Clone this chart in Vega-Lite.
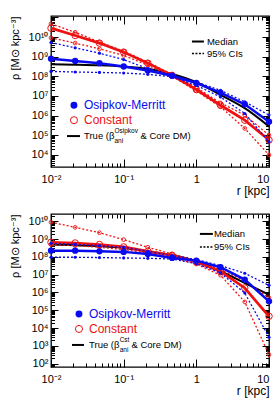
{
"$schema": "https://vega.github.io/schema/vega-lite/v6.json",
"padding": {"left": 8, "top": 14, "right": 6, "bottom": 2},
"spacing": 47,
"bounds": "flush",
"config": {
  "view": {"stroke": "#000", "strokeWidth": 1.3},
  "font": "Liberation Sans",
  "axis": {"domain": false, "grid": false, "tickColor": "#000", "tickWidth": 1, "labelColor": "#000", "labelFont": "Liberation Sans", "titleFont": "Liberation Sans", "titleColor": "#000", "titleFontWeight": "normal", "labelFontSize": 11, "titleFontSize": 12, "labelOverlap": false, "labelFlush": false}
},
"datasets": {
"curves": [
{"panel":"top","model":"True","stat":"med","r":0.01,"rho":4.07e8},
{"panel":"top","model":"True","stat":"med","r":0.0215,"rho":3.89e8},
{"panel":"top","model":"True","stat":"med","r":0.0464,"rho":3.63e8},
{"panel":"top","model":"True","stat":"med","r":0.1,"rho":3.16e8},
{"panel":"top","model":"True","stat":"med","r":0.215,"rho":2.40e8},
{"panel":"top","model":"True","stat":"med","r":0.464,"rho":1.32e8},
{"panel":"top","model":"True","stat":"med","r":1,"rho":5.01e7},
{"panel":"top","model":"True","stat":"med","r":2.15,"rho":1.15e7},
{"panel":"top","model":"True","stat":"med","r":4.64,"rho":2.40e6},
{"panel":"top","model":"True","stat":"med","r":10,"rho":2.82e5},
{"panel":"top","model":"OM","stat":"med","r":0.01,"rho":7.94e8},
{"panel":"top","model":"OM","stat":"med","r":0.0215,"rho":6.03e8},
{"panel":"top","model":"OM","stat":"med","r":0.0464,"rho":4.68e8},
{"panel":"top","model":"OM","stat":"med","r":0.1,"rho":3.16e8},
{"panel":"top","model":"OM","stat":"med","r":0.215,"rho":2.0e8},
{"panel":"top","model":"OM","stat":"med","r":0.464,"rho":1.07e8},
{"panel":"top","model":"OM","stat":"med","r":1,"rho":4.57e7},
{"panel":"top","model":"OM","stat":"med","r":2.15,"rho":1.48e7},
{"panel":"top","model":"OM","stat":"med","r":4.64,"rho":3.80e6},
{"panel":"top","model":"OM","stat":"med","r":10,"rho":4.90e5},
{"panel":"top","model":"OM","stat":"hi","r":0.01,"rho":5.25e9},
{"panel":"top","model":"OM","stat":"hi","r":0.0215,"rho":2.82e9},
{"panel":"top","model":"OM","stat":"hi","r":0.0464,"rho":1.51e9},
{"panel":"top","model":"OM","stat":"hi","r":0.1,"rho":7.08e8},
{"panel":"top","model":"OM","stat":"hi","r":0.215,"rho":2.45e8},
{"panel":"top","model":"OM","stat":"hi","r":0.464,"rho":1.15e8},
{"panel":"top","model":"OM","stat":"hi","r":1,"rho":5.13e7},
{"panel":"top","model":"OM","stat":"hi","r":2.15,"rho":1.95e7},
{"panel":"top","model":"OM","stat":"hi","r":4.64,"rho":5.01e6},
{"panel":"top","model":"OM","stat":"hi","r":10,"rho":1.07e6},
{"panel":"top","model":"OM","stat":"lo","r":0.01,"rho":1.78e8},
{"panel":"top","model":"OM","stat":"lo","r":0.0215,"rho":1.66e8},
{"panel":"top","model":"OM","stat":"lo","r":0.0464,"rho":1.58e8},
{"panel":"top","model":"OM","stat":"lo","r":0.1,"rho":1.48e8},
{"panel":"top","model":"OM","stat":"lo","r":0.215,"rho":1.26e8},
{"panel":"top","model":"OM","stat":"lo","r":0.464,"rho":9.55e7},
{"panel":"top","model":"OM","stat":"lo","r":1,"rho":3.47e7},
{"panel":"top","model":"OM","stat":"lo","r":2.15,"rho":8.91e6},
{"panel":"top","model":"OM","stat":"lo","r":4.64,"rho":1.29e6},
{"panel":"top","model":"OM","stat":"lo","r":10,"rho":4.68e4},
{"panel":"top","model":"Const","stat":"med","r":0.01,"rho":2.82e10},
{"panel":"top","model":"Const","stat":"med","r":0.0215,"rho":1.20e10},
{"panel":"top","model":"Const","stat":"med","r":0.0464,"rho":4.90e9},
{"panel":"top","model":"Const","stat":"med","r":0.1,"rho":1.70e9},
{"panel":"top","model":"Const","stat":"med","r":0.215,"rho":4.68e8},
{"panel":"top","model":"Const","stat":"med","r":0.464,"rho":1.12e8},
{"panel":"top","model":"Const","stat":"med","r":1,"rho":2.14e7},
{"panel":"top","model":"Const","stat":"med","r":2.15,"rho":3.39e6},
{"panel":"top","model":"Const","stat":"med","r":4.64,"rho":5.89e5},
{"panel":"top","model":"Const","stat":"med","r":10,"rho":5.75e4},
{"panel":"top","model":"Const","stat":"hi","r":0.01,"rho":4.68e10},
{"panel":"top","model":"Const","stat":"hi","r":0.0215,"rho":1.74e10},
{"panel":"top","model":"Const","stat":"hi","r":0.0464,"rho":5.50e9},
{"panel":"top","model":"Const","stat":"hi","r":0.1,"rho":1.91e9},
{"panel":"top","model":"Const","stat":"hi","r":0.215,"rho":5.25e8},
{"panel":"top","model":"Const","stat":"hi","r":0.464,"rho":1.26e8},
{"panel":"top","model":"Const","stat":"hi","r":1,"rho":2.69e7},
{"panel":"top","model":"Const","stat":"hi","r":2.15,"rho":4.47e6},
{"panel":"top","model":"Const","stat":"hi","r":4.64,"rho":1.07e6},
{"panel":"top","model":"Const","stat":"hi","r":10,"rho":1.02e5},
{"panel":"top","model":"Const","stat":"lo","r":0.01,"rho":9.12e9},
{"panel":"top","model":"Const","stat":"lo","r":0.0215,"rho":4.90e9},
{"panel":"top","model":"Const","stat":"lo","r":0.0464,"rho":2.51e9},
{"panel":"top","model":"Const","stat":"lo","r":0.1,"rho":1.15e9},
{"panel":"top","model":"Const","stat":"lo","r":0.215,"rho":3.63e8},
{"panel":"top","model":"Const","stat":"lo","r":0.464,"rho":1.0e8},
{"panel":"top","model":"Const","stat":"lo","r":1,"rho":1.82e7},
{"panel":"top","model":"Const","stat":"lo","r":2.15,"rho":2.82e6},
{"panel":"top","model":"Const","stat":"lo","r":4.64,"rho":2.24e5},
{"panel":"top","model":"Const","stat":"lo","r":10,"rho":1.0e4},
{"panel":"bot","model":"True","stat":"med","r":0.01,"rho":4.90e8},
{"panel":"bot","model":"True","stat":"med","r":0.0215,"rho":4.57e8},
{"panel":"bot","model":"True","stat":"med","r":0.0464,"rho":3.98e8},
{"panel":"bot","model":"True","stat":"med","r":0.1,"rho":3.16e8},
{"panel":"bot","model":"True","stat":"med","r":0.215,"rho":2.04e8},
{"panel":"bot","model":"True","stat":"med","r":0.464,"rho":1.23e8},
{"panel":"bot","model":"True","stat":"med","r":1,"rho":5.62e7},
{"panel":"bot","model":"True","stat":"med","r":2.15,"rho":1.55e7},
{"panel":"bot","model":"True","stat":"med","r":4.64,"rho":3.39e6},
{"panel":"bot","model":"True","stat":"med","r":10,"rho":7.59e5},
{"panel":"bot","model":"OM","stat":"med","r":0.01,"rho":2.24e8},
{"panel":"bot","model":"OM","stat":"med","r":0.0215,"rho":2.24e8},
{"panel":"bot","model":"OM","stat":"med","r":0.0464,"rho":2.04e8},
{"panel":"bot","model":"OM","stat":"med","r":0.1,"rho":1.91e8},
{"panel":"bot","model":"OM","stat":"med","r":0.215,"rho":1.45e8},
{"panel":"bot","model":"OM","stat":"med","r":0.464,"rho":8.71e7},
{"panel":"bot","model":"OM","stat":"med","r":1,"rho":6.17e7},
{"panel":"bot","model":"OM","stat":"med","r":2.15,"rho":2.63e7},
{"panel":"bot","model":"OM","stat":"med","r":4.64,"rho":5.25e6},
{"panel":"bot","model":"OM","stat":"med","r":10,"rho":3.16e5},
{"panel":"bot","model":"OM","stat":"hi","r":0.01,"rho":5.75e8},
{"panel":"bot","model":"OM","stat":"hi","r":0.0215,"rho":5.01e8},
{"panel":"bot","model":"OM","stat":"hi","r":0.0464,"rho":4.27e8},
{"panel":"bot","model":"OM","stat":"hi","r":0.1,"rho":3.47e8},
{"panel":"bot","model":"OM","stat":"hi","r":0.215,"rho":2.04e8},
{"panel":"bot","model":"OM","stat":"hi","r":0.464,"rho":1.17e8},
{"panel":"bot","model":"OM","stat":"hi","r":1,"rho":7.08e7},
{"panel":"bot","model":"OM","stat":"hi","r":2.15,"rho":3.24e7},
{"panel":"bot","model":"OM","stat":"hi","r":4.64,"rho":1.20e7},
{"panel":"bot","model":"OM","stat":"hi","r":10,"rho":2.51e6},
{"panel":"bot","model":"OM","stat":"lo","r":0.01,"rho":9.55e7},
{"panel":"bot","model":"OM","stat":"lo","r":0.0215,"rho":9.55e7},
{"panel":"bot","model":"OM","stat":"lo","r":0.0464,"rho":9.12e7},
{"panel":"bot","model":"OM","stat":"lo","r":0.1,"rho":8.71e7},
{"panel":"bot","model":"OM","stat":"lo","r":0.215,"rho":8.32e7},
{"panel":"bot","model":"OM","stat":"lo","r":0.464,"rho":7.59e7},
{"panel":"bot","model":"OM","stat":"lo","r":1,"rho":4.17e7},
{"panel":"bot","model":"OM","stat":"lo","r":2.15,"rho":1.26e7},
{"panel":"bot","model":"OM","stat":"lo","r":4.64,"rho":9.33e5},
{"panel":"bot","model":"OM","stat":"lo","r":10,"rho":3.02e3},
{"panel":"bot","model":"Const","stat":"med","r":0.01,"rho":6.61e8},
{"panel":"bot","model":"Const","stat":"med","r":0.0215,"rho":6.03e8},
{"panel":"bot","model":"Const","stat":"med","r":0.0464,"rho":4.90e8},
{"panel":"bot","model":"Const","stat":"med","r":0.1,"rho":3.63e8},
{"panel":"bot","model":"Const","stat":"med","r":0.215,"rho":2.04e8},
{"panel":"bot","model":"Const","stat":"med","r":0.464,"rho":1.23e8},
{"panel":"bot","model":"Const","stat":"med","r":1,"rho":5.13e7},
{"panel":"bot","model":"Const","stat":"med","r":2.15,"rho":1.55e7},
{"panel":"bot","model":"Const","stat":"med","r":4.64,"rho":1.78e6},
{"panel":"bot","model":"Const","stat":"med","r":10,"rho":4.57e4},
{"panel":"bot","model":"Const","stat":"hi","r":0.01,"rho":8.91e9},
{"panel":"bot","model":"Const","stat":"hi","r":0.0215,"rho":4.57e9},
{"panel":"bot","model":"Const","stat":"hi","r":0.0464,"rho":2.29e9},
{"panel":"bot","model":"Const","stat":"hi","r":0.1,"rho":9.33e8},
{"panel":"bot","model":"Const","stat":"hi","r":0.215,"rho":3.47e8},
{"panel":"bot","model":"Const","stat":"hi","r":0.464,"rho":1.45e8},
{"panel":"bot","model":"Const","stat":"hi","r":1,"rho":6.46e7},
{"panel":"bot","model":"Const","stat":"hi","r":2.15,"rho":1.91e7},
{"panel":"bot","model":"Const","stat":"hi","r":4.64,"rho":4.57e6},
{"panel":"bot","model":"Const","stat":"hi","r":10,"rho":5.01e5},
{"panel":"bot","model":"Const","stat":"lo","r":0.01,"rho":4.90e8},
{"panel":"bot","model":"Const","stat":"lo","r":0.0215,"rho":4.27e8},
{"panel":"bot","model":"Const","stat":"lo","r":0.0464,"rho":3.47e8},
{"panel":"bot","model":"Const","stat":"lo","r":0.1,"rho":2.57e8},
{"panel":"bot","model":"Const","stat":"lo","r":0.215,"rho":1.66e8},
{"panel":"bot","model":"Const","stat":"lo","r":0.464,"rho":9.55e7},
{"panel":"bot","model":"Const","stat":"lo","r":1,"rho":3.98e7},
{"panel":"bot","model":"Const","stat":"lo","r":2.15,"rho":9.33e6},
{"panel":"bot","model":"Const","stat":"lo","r":4.64,"rho":2.95e5},
{"panel":"bot","model":"Const","stat":"lo","r":10,"rho":3.16e2}
],
"leg": [
{"panel":"top","kind":"line","sty":"solid","r":0.870,"r2":1.272,"rho":5.89e9},
{"panel":"top","kind":"line","sty":"dot","r":0.870,"r2":1.272,"rho":1.445e9},
{"panel":"top","kind":"line","sty":"solid","r":0.0166,"r2":0.02506,"rho":9.16e4},
{"panel":"top","kind":"pt","model":"OM","r":0.0207,"rho":3.39e6},
{"panel":"top","kind":"pt","model":"Const","r":0.0207,"rho":5.89e5},
{"panel":"top","kind":"txt","grp":"big","model":"OM","label":"Osipkov-Merritt","r":0.02844,"rho":3.39e6},
{"panel":"top","kind":"txt","grp":"big","model":"Const","label":"Constant","r":0.02844,"rho":5.89e5},
{"panel":"top","kind":"txt","grp":"mid","model":"True","label":"True (β","r":0.02844,"rho":9.16e4},
{"panel":"top","kind":"txt","grp":"tiny","model":"True","label":"Osipkov","r":0.0747,"rho":1.64e5},
{"panel":"top","kind":"txt","grp":"tiny","model":"True","label":"ani","r":0.0747,"rho":5.12e4},
{"panel":"top","kind":"txt","grp":"mid","model":"True","label":"& Core DM)","r":0.1703,"rho":9.16e4},
{"panel":"top","kind":"txt","grp":"mid","model":"True","label":"Median","r":1.40,"rho":5.89e9},
{"panel":"top","kind":"txt","grp":"mid","model":"True","label":"95% CIs","r":1.40,"rho":1.445e9},
{"panel":"bot","kind":"line","sty":"solid","r":1.12,"r2":1.69,"rho":1.95e9},
{"panel":"bot","kind":"line","sty":"dot","r":1.12,"r2":1.69,"rho":3.63e8},
{"panel":"bot","kind":"line","sty":"solid","r":0.01945,"r2":0.02844,"rho":1.12e3},
{"panel":"bot","kind":"pt","model":"OM","r":0.02427,"rho":6.17e4},
{"panel":"bot","kind":"pt","model":"Const","r":0.02427,"rho":8.91e3},
{"panel":"bot","kind":"txt","grp":"big","model":"OM","label":"Osipkov-Merritt","r":0.03335,"rho":6.17e4},
{"panel":"bot","kind":"txt","grp":"big","model":"Const","label":"Constant","r":0.03335,"rho":8.91e3},
{"panel":"bot","kind":"txt","grp":"mid","model":"True","label":"True (β","r":0.03335,"rho":1.12e3},
{"panel":"bot","kind":"txt","grp":"tiny","model":"True","label":"Cst","r":0.0881,"rho":2.14e3},
{"panel":"bot","kind":"txt","grp":"tiny","model":"True","label":"ani","r":0.0881,"rho":589},
{"panel":"bot","kind":"txt","grp":"mid","model":"True","label":"& Core DM)","r":0.128,"rho":1.12e3},
{"panel":"bot","kind":"txt","grp":"mid","model":"True","label":"Median","r":1.746,"rho":1.95e9},
{"panel":"bot","kind":"txt","grp":"mid","model":"True","label":"95% CIs","r":1.746,"rho":3.63e8}
]
},
"vconcat": [
{
  "width": 218, "height": 151,
  "encoding": {
    "x": {"field": "r", "type": "quantitative", "scale": {"type": "log", "domain": [0.01, 10], "nice": false}, "axis": null},
    "y": {"field": "rho", "type": "quantitative", "scale": {"type": "log", "domain": [2450, 1.17e11], "nice": false}, "axis": null}
  },
  "layer": [
    {"data": {"name": "curves"}, "transform": [{"filter": "datum.panel=='top' && datum.model=='True'"}],
     "mark": {"type": "line", "color": "#000", "strokeWidth": 2, "interpolate": "monotone"},
     "encoding": {
       "x": {"field": "r", "type": "quantitative", "scale": {"type": "log", "domain": [0.01, 10], "nice": false},
         "axis": {"orient": "bottom", "values": [0.01, 0.1, 1, 10], "ticks": false,
           "labelExpr": "datum.value < 0.05 ? '10⁻²' : datum.value < 0.5 ? '10⁻¹' : datum.value < 5 ? '1' : '10'",
           "labelAlign": {"condition": {"test": "datum.value > 5", "value": "right"}, "value": "center"},
           "labelPadding": 6, "title": "r  [kpc]", "titleX": 218, "titleY": 23, "titleAlign": "right", "titleBaseline": "middle"}},
       "y": {"field": "rho", "type": "quantitative", "scale": {"type": "log", "domain": [2450, 1.17e11], "nice": false},
         "axis": {"orient": "left", "values": [1e4,1e5,1e6,1e7,1e8,1e9,1e10], "ticks": false,
           "labelExpr": "'10' + ['⁰','¹','²','³','⁴','⁵','⁶','⁷','⁸','⁹','¹⁰'][round(log(datum.value)/LN10)]",
           "labelPadding": 3, "title": "ρ [M⊙ kpc⁻³]", "titleFontSize": 11, "titleX": -36, "titleY": 0, "titleAlign": "right", "titleBaseline": "middle", "titleAngle": 270}}
     }},
    {"data": {"name": "curves"}, "transform": [{"filter": "datum.panel=='top' && datum.model=='True'"}],
     "mark": {"type": "point", "opacity": 0},
     "encoding": {
       "x": {"field": "r", "type": "quantitative", "scale": {"type": "log", "domain": [0.01, 10], "nice": false},
         "axis": {"orient": "top", "values": [0.01,0.02,0.03,0.04,0.05,0.06,0.07,0.08,0.09,0.1,0.2,0.3,0.4,0.5,0.6,0.7,0.8,0.9,1,2,3,4,5,6,7,8,9,10], "labels": false, "title": null,
           "tickSize": {"condition": {"test": "abs(log(datum.value)/LN10 - round(log(datum.value)/LN10)) < 0.01", "value": -8}, "value": -4}}},
       "y": {"field": "rho", "type": "quantitative", "scale": {"type": "log", "domain": [2450, 1.17e11], "nice": false},
         "axis": {"orient": "right", "values": [3e3,4e3,5e3,6e3,7e3,8e3,9e3,1e4,2e4,3e4,4e4,5e4,6e4,7e4,8e4,9e4,1e5,2e5,3e5,4e5,5e5,6e5,7e5,8e5,9e5,1e6,2e6,3e6,4e6,5e6,6e6,7e6,8e6,9e6,1e7,2e7,3e7,4e7,5e7,6e7,7e7,8e7,9e7,1e8,2e8,3e8,4e8,5e8,6e8,7e8,8e8,9e8,1e9,2e9,3e9,4e9,5e9,6e9,7e9,8e9,9e9,1e10,2e10,3e10,4e10,5e10,6e10,7e10,8e10,9e10,1e11], "labels": false, "title": null,
           "tickSize": {"condition": {"test": "abs(log(datum.value)/LN10 - round(log(datum.value)/LN10)) < 0.01", "value": -7}, "value": -3.5}}}
     }},
    {"data": {"name": "curves"}, "transform": [{"filter": "datum.panel=='top' && datum.model=='True'"}],
     "mark": {"type": "point", "opacity": 0},
     "encoding": {
       "x": {"field": "r", "type": "quantitative", "scale": {"type": "log", "domain": [0.01, 10], "nice": false},
         "axis": {"orient": "bottom", "values": [0.01,0.02,0.03,0.04,0.05,0.06,0.07,0.08,0.09,0.1,0.2,0.3,0.4,0.5,0.6,0.7,0.8,0.9,1,2,3,4,5,6,7,8,9,10], "labels": false, "title": null,
           "tickSize": {"condition": {"test": "abs(log(datum.value)/LN10 - round(log(datum.value)/LN10)) < 0.01", "value": -8}, "value": -4}}},
       "y": {"field": "rho", "type": "quantitative", "scale": {"type": "log", "domain": [2450, 1.17e11], "nice": false},
         "axis": {"orient": "left", "values": [3e3,4e3,5e3,6e3,7e3,8e3,9e3,1e4,2e4,3e4,4e4,5e4,6e4,7e4,8e4,9e4,1e5,2e5,3e5,4e5,5e5,6e5,7e5,8e5,9e5,1e6,2e6,3e6,4e6,5e6,6e6,7e6,8e6,9e6,1e7,2e7,3e7,4e7,5e7,6e7,7e7,8e7,9e7,1e8,2e8,3e8,4e8,5e8,6e8,7e8,8e8,9e8,1e9,2e9,3e9,4e9,5e9,6e9,7e9,8e9,9e9,1e10,2e10,3e10,4e10,5e10,6e10,7e10,8e10,9e10,1e11], "labels": false, "title": null,
           "tickSize": {"condition": {"test": "abs(log(datum.value)/LN10 - round(log(datum.value)/LN10)) < 0.01", "value": -7}, "value": -3.5}}}
     }},
    {"data": {"name": "curves"}, "transform": [{"filter": "datum.panel=='top' && datum.model=='Const' && datum.stat!='med'"}],
     "mark": {"type": "line", "color": "#ee1111", "strokeWidth": 1.3, "strokeDash": [2, 2]}, "encoding": {"detail": {"field": "stat"}}},
    {"data": {"name": "curves"}, "transform": [{"filter": "datum.panel=='top' && datum.model=='Const' && datum.stat!='med'"}],
     "mark": {"type": "point", "shape": "circle", "filled": false, "color": "#ee1111", "strokeWidth": 0.9, "size": 14, "opacity": 1}},
    {"data": {"name": "curves"}, "transform": [{"filter": "datum.panel=='top' && datum.model=='Const' && datum.stat=='med'"}],
     "mark": {"type": "line", "color": "#ee1111", "strokeWidth": 2.7}},
    {"data": {"name": "curves"}, "transform": [{"filter": "datum.panel=='top' && datum.model=='Const' && datum.stat=='med'"}],
     "mark": {"type": "point", "shape": "circle", "filled": false, "color": "#ee1111", "strokeWidth": 1, "size": 42, "opacity": 1}},
    {"data": {"name": "curves"}, "transform": [{"filter": "datum.panel=='top' && datum.model=='OM' && datum.stat!='med'"}],
     "mark": {"type": "line", "color": "#0a0aee", "strokeWidth": 1.3, "strokeDash": [2, 2]}, "encoding": {"detail": {"field": "stat"}}},
    {"data": {"name": "curves"}, "transform": [{"filter": "datum.panel=='top' && datum.model=='OM' && datum.stat!='med'"}],
     "mark": {"type": "point", "shape": "circle", "filled": true, "color": "#0a0aee", "size": 10, "opacity": 1}},
    {"data": {"name": "curves"}, "transform": [{"filter": "datum.panel=='top' && datum.model=='OM' && datum.stat=='med'"}],
     "mark": {"type": "line", "color": "#0a0aee", "strokeWidth": 2.5}},
    {"data": {"name": "curves"}, "transform": [{"filter": "datum.panel=='top' && datum.model=='OM' && datum.stat=='med'"}],
     "mark": {"type": "point", "shape": "circle", "filled": true, "color": "#0a0aee", "size": 40, "opacity": 1}},
    {"data": {"name": "leg"}, "transform": [{"filter": "datum.panel=='top' && datum.kind=='line' && datum.sty=='solid'"}],
     "mark": {"type": "rule", "color": "#000", "strokeWidth": 2}, "encoding": {"x2": {"field": "r2"}}},
    {"data": {"name": "leg"}, "transform": [{"filter": "datum.panel=='top' && datum.kind=='line' && datum.sty=='dot'"}],
     "mark": {"type": "rule", "color": "#000", "strokeWidth": 1.5, "strokeDash": [2, 1.5]}, "encoding": {"x2": {"field": "r2"}}},
    {"data": {"name": "leg"}, "transform": [{"filter": "datum.panel=='top' && datum.kind=='pt' && datum.model=='OM'"}],
     "mark": {"type": "point", "shape": "circle", "filled": true, "color": "#0a0aee", "size": 48, "opacity": 1}},
    {"data": {"name": "leg"}, "transform": [{"filter": "datum.panel=='top' && datum.kind=='pt' && datum.model=='Const'"}],
     "mark": {"type": "point", "shape": "circle", "filled": false, "color": "#ee1111", "strokeWidth": 1, "size": 50, "opacity": 1}},
    {"data": {"name": "leg"}, "transform": [{"filter": "datum.panel=='top' && datum.kind=='txt' && datum.grp=='big'"}],
     "mark": {"type": "text", "align": "left", "baseline": "middle", "fontSize": 12},
     "encoding": {"text": {"field": "label"}, "color": {"field": "model", "type": "nominal", "scale": {"domain": ["OM", "Const", "True"], "range": ["#0a0aee", "#ee1111", "#000000"]}, "legend": null}}},
    {"data": {"name": "leg"}, "transform": [{"filter": "datum.panel=='top' && datum.kind=='txt' && datum.grp=='mid'"}],
     "mark": {"type": "text", "align": "left", "baseline": "middle", "fontSize": 9.5, "color": "#000"},
     "encoding": {"text": {"field": "label"}}},
    {"data": {"name": "leg"}, "transform": [{"filter": "datum.panel=='top' && datum.kind=='txt' && datum.grp=='tiny'"}],
     "mark": {"type": "text", "align": "left", "baseline": "middle", "fontSize": 6.5, "color": "#000"},
     "encoding": {"text": {"field": "label"}}}
  ],
  "resolve": {"axis": {"x": "independent", "y": "independent"}}
},
{
  "width": 218, "height": 153,
  "encoding": {
    "x": {"field": "r", "type": "quantitative", "scale": {"type": "log", "domain": [0.01, 10], "nice": false}, "axis": null},
    "y": {"field": "rho", "type": "quantitative", "scale": {"type": "log", "domain": [64.6, 2.57e10], "nice": false}, "axis": null}
  },
  "layer": [
    {"data": {"name": "curves"}, "transform": [{"filter": "datum.panel=='bot' && datum.model=='True'"}],
     "mark": {"type": "line", "color": "#000", "strokeWidth": 2, "interpolate": "monotone"},
     "encoding": {
       "x": {"field": "r", "type": "quantitative", "scale": {"type": "log", "domain": [0.01, 10], "nice": false},
         "axis": {"orient": "bottom", "values": [0.01, 0.1, 1, 10], "ticks": false,
           "labelExpr": "datum.value < 0.05 ? '10⁻²' : datum.value < 0.5 ? '10⁻¹' : datum.value < 5 ? '1' : '10'",
           "labelAlign": {"condition": {"test": "datum.value > 5", "value": "right"}, "value": "center"},
           "labelPadding": 6, "title": "r  [kpc]", "titleX": 218, "titleY": 23, "titleAlign": "right", "titleBaseline": "middle"}},
       "y": {"field": "rho", "type": "quantitative", "scale": {"type": "log", "domain": [64.6, 2.57e10], "nice": false},
         "axis": {"orient": "left", "values": [1e2,1e3,1e4,1e5,1e6,1e7,1e8,1e9,1e10], "ticks": false,
           "labelExpr": "'10' + ['⁰','¹','²','³','⁴','⁵','⁶','⁷','⁸','⁹','¹⁰'][round(log(datum.value)/LN10)]",
           "labelPadding": 3, "title": "ρ [M⊙ kpc⁻³]", "titleFontSize": 11, "titleX": -36, "titleY": 0, "titleAlign": "right", "titleBaseline": "middle", "titleAngle": 270}}
     }},
    {"data": {"name": "curves"}, "transform": [{"filter": "datum.panel=='bot' && datum.model=='True'"}],
     "mark": {"type": "point", "opacity": 0},
     "encoding": {
       "x": {"field": "r", "type": "quantitative", "scale": {"type": "log", "domain": [0.01, 10], "nice": false},
         "axis": {"orient": "top", "values": [0.01,0.02,0.03,0.04,0.05,0.06,0.07,0.08,0.09,0.1,0.2,0.3,0.4,0.5,0.6,0.7,0.8,0.9,1,2,3,4,5,6,7,8,9,10], "labels": false, "title": null,
           "tickSize": {"condition": {"test": "abs(log(datum.value)/LN10 - round(log(datum.value)/LN10)) < 0.01", "value": -8}, "value": -4}}},
       "y": {"field": "rho", "type": "quantitative", "scale": {"type": "log", "domain": [64.6, 2.57e10], "nice": false},
         "axis": {"orient": "right", "values": [70,80,90,1e2,2e2,3e2,4e2,5e2,6e2,7e2,8e2,9e2,1e3,2e3,3e3,4e3,5e3,6e3,7e3,8e3,9e3,1e4,2e4,3e4,4e4,5e4,6e4,7e4,8e4,9e4,1e5,2e5,3e5,4e5,5e5,6e5,7e5,8e5,9e5,1e6,2e6,3e6,4e6,5e6,6e6,7e6,8e6,9e6,1e7,2e7,3e7,4e7,5e7,6e7,7e7,8e7,9e7,1e8,2e8,3e8,4e8,5e8,6e8,7e8,8e8,9e8,1e9,2e9,3e9,4e9,5e9,6e9,7e9,8e9,9e9,1e10,2e10], "labels": false, "title": null,
           "tickSize": {"condition": {"test": "abs(log(datum.value)/LN10 - round(log(datum.value)/LN10)) < 0.01", "value": -7}, "value": -3.5}}}
     }},
    {"data": {"name": "curves"}, "transform": [{"filter": "datum.panel=='bot' && datum.model=='True'"}],
     "mark": {"type": "point", "opacity": 0},
     "encoding": {
       "x": {"field": "r", "type": "quantitative", "scale": {"type": "log", "domain": [0.01, 10], "nice": false},
         "axis": {"orient": "bottom", "values": [0.01,0.02,0.03,0.04,0.05,0.06,0.07,0.08,0.09,0.1,0.2,0.3,0.4,0.5,0.6,0.7,0.8,0.9,1,2,3,4,5,6,7,8,9,10], "labels": false, "title": null,
           "tickSize": {"condition": {"test": "abs(log(datum.value)/LN10 - round(log(datum.value)/LN10)) < 0.01", "value": -8}, "value": -4}}},
       "y": {"field": "rho", "type": "quantitative", "scale": {"type": "log", "domain": [64.6, 2.57e10], "nice": false},
         "axis": {"orient": "left", "values": [70,80,90,1e2,2e2,3e2,4e2,5e2,6e2,7e2,8e2,9e2,1e3,2e3,3e3,4e3,5e3,6e3,7e3,8e3,9e3,1e4,2e4,3e4,4e4,5e4,6e4,7e4,8e4,9e4,1e5,2e5,3e5,4e5,5e5,6e5,7e5,8e5,9e5,1e6,2e6,3e6,4e6,5e6,6e6,7e6,8e6,9e6,1e7,2e7,3e7,4e7,5e7,6e7,7e7,8e7,9e7,1e8,2e8,3e8,4e8,5e8,6e8,7e8,8e8,9e8,1e9,2e9,3e9,4e9,5e9,6e9,7e9,8e9,9e9,1e10,2e10], "labels": false, "title": null,
           "tickSize": {"condition": {"test": "abs(log(datum.value)/LN10 - round(log(datum.value)/LN10)) < 0.01", "value": -7}, "value": -3.5}}}
     }},
    {"data": {"name": "curves"}, "transform": [{"filter": "datum.panel=='bot' && datum.model=='Const' && datum.stat!='med'"}],
     "mark": {"type": "line", "color": "#ee1111", "strokeWidth": 1.3, "strokeDash": [2, 2]}, "encoding": {"detail": {"field": "stat"}}},
    {"data": {"name": "curves"}, "transform": [{"filter": "datum.panel=='bot' && datum.model=='Const' && datum.stat!='med'"}],
     "mark": {"type": "point", "shape": "circle", "filled": false, "color": "#ee1111", "strokeWidth": 0.9, "size": 14, "opacity": 1}},
    {"data": {"name": "curves"}, "transform": [{"filter": "datum.panel=='bot' && datum.model=='Const' && datum.stat=='med'"}],
     "mark": {"type": "line", "color": "#ee1111", "strokeWidth": 2.7}},
    {"data": {"name": "curves"}, "transform": [{"filter": "datum.panel=='bot' && datum.model=='Const' && datum.stat=='med'"}],
     "mark": {"type": "point", "shape": "circle", "filled": false, "color": "#ee1111", "strokeWidth": 1, "size": 42, "opacity": 1}},
    {"data": {"name": "curves"}, "transform": [{"filter": "datum.panel=='bot' && datum.model=='OM' && datum.stat!='med'"}],
     "mark": {"type": "line", "color": "#0a0aee", "strokeWidth": 1.3, "strokeDash": [2, 2]}, "encoding": {"detail": {"field": "stat"}}},
    {"data": {"name": "curves"}, "transform": [{"filter": "datum.panel=='bot' && datum.model=='OM' && datum.stat!='med'"}],
     "mark": {"type": "point", "shape": "circle", "filled": true, "color": "#0a0aee", "size": 10, "opacity": 1}},
    {"data": {"name": "curves"}, "transform": [{"filter": "datum.panel=='bot' && datum.model=='OM' && datum.stat=='med'"}],
     "mark": {"type": "line", "color": "#0a0aee", "strokeWidth": 2.5}},
    {"data": {"name": "curves"}, "transform": [{"filter": "datum.panel=='bot' && datum.model=='OM' && datum.stat=='med'"}],
     "mark": {"type": "point", "shape": "circle", "filled": true, "color": "#0a0aee", "size": 40, "opacity": 1}},
    {"data": {"name": "leg"}, "transform": [{"filter": "datum.panel=='bot' && datum.kind=='line' && datum.sty=='solid'"}],
     "mark": {"type": "rule", "color": "#000", "strokeWidth": 2}, "encoding": {"x2": {"field": "r2"}}},
    {"data": {"name": "leg"}, "transform": [{"filter": "datum.panel=='bot' && datum.kind=='line' && datum.sty=='dot'"}],
     "mark": {"type": "rule", "color": "#000", "strokeWidth": 1.5, "strokeDash": [2, 1.5]}, "encoding": {"x2": {"field": "r2"}}},
    {"data": {"name": "leg"}, "transform": [{"filter": "datum.panel=='bot' && datum.kind=='pt' && datum.model=='OM'"}],
     "mark": {"type": "point", "shape": "circle", "filled": true, "color": "#0a0aee", "size": 48, "opacity": 1}},
    {"data": {"name": "leg"}, "transform": [{"filter": "datum.panel=='bot' && datum.kind=='pt' && datum.model=='Const'"}],
     "mark": {"type": "point", "shape": "circle", "filled": false, "color": "#ee1111", "strokeWidth": 1, "size": 50, "opacity": 1}},
    {"data": {"name": "leg"}, "transform": [{"filter": "datum.panel=='bot' && datum.kind=='txt' && datum.grp=='big'"}],
     "mark": {"type": "text", "align": "left", "baseline": "middle", "fontSize": 12},
     "encoding": {"text": {"field": "label"}, "color": {"field": "model", "type": "nominal", "scale": {"domain": ["OM", "Const", "True"], "range": ["#0a0aee", "#ee1111", "#000000"]}, "legend": null}}},
    {"data": {"name": "leg"}, "transform": [{"filter": "datum.panel=='bot' && datum.kind=='txt' && datum.grp=='mid'"}],
     "mark": {"type": "text", "align": "left", "baseline": "middle", "fontSize": 9.5, "color": "#000"},
     "encoding": {"text": {"field": "label"}}},
    {"data": {"name": "leg"}, "transform": [{"filter": "datum.panel=='bot' && datum.kind=='txt' && datum.grp=='tiny'"}],
     "mark": {"type": "text", "align": "left", "baseline": "middle", "fontSize": 6.5, "color": "#000"},
     "encoding": {"text": {"field": "label"}}}
  ],
  "resolve": {"axis": {"x": "independent", "y": "independent"}}
}
]
}
